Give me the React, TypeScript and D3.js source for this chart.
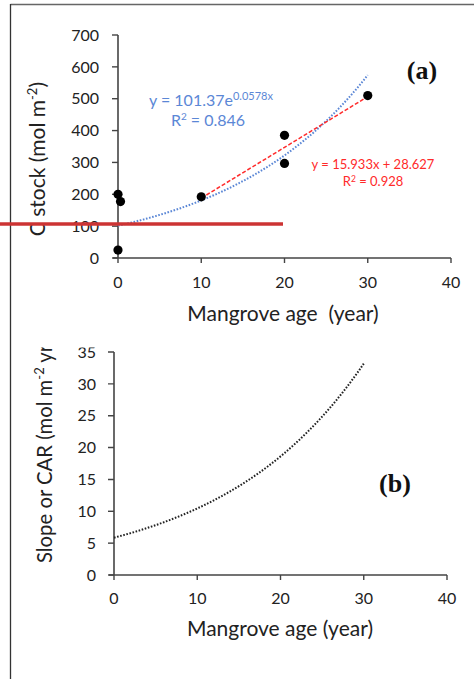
import React from "react";
import * as d3 from "d3";

// Panel (a) scatter data: mangrove age (year) vs C stock (mol m-2)
const ageYears = [0, 0, 0.3, 10, 20, 20, 30];
const cStock = [200, 25, 177, 192, 385, 297, 510];

// Fitted trendlines shown on the chart
const expFitA = 101.37; // y = 101.37 e^(0.0578x)
const expFitB = 0.0578;
const linSlope = 15.933; // y = 15.933x + 28.627
const linIntercept = 28.627;
const fitRange = [0, 30];
const linRange = [10, 30];

const xTicks = [0, 10, 20, 30, 40];
const yTicksA = [0, 100, 200, 300, 400, 500, 600, 700];
const yTicksB = [0, 5, 10, 15, 20, 25, 30, 35];

const FONT = "Lato, 'Open Sans', sans-serif";
const AXIS = "#444";
const TXT = "#222";

export default function App() {
  const xA = d3.scaleLinear().domain([0, 40]).range([118, 451]);
  const yA = d3.scaleLinear().domain([0, 700]).range([258, 35]);
  const xB = d3.scaleLinear().domain([0, 40]).range([114, 447]);
  const yB = d3.scaleLinear().domain([0, 35]).range([575, 352]);

  const samples = d3.range(fitRange[0], fitRange[1] + 0.001, 0.25);
  const expLine = d3
    .line<number>()
    .x((d) => xA(d))
    .y((d) => yA(expFitA * Math.exp(expFitB * d)));
  const linLine = d3
    .line<number>()
    .x((d) => xA(d))
    .y((d) => yA(linSlope * d + linIntercept));
  const rateLine = d3
    .line<number>()
    .x((d) => xB(d))
    .y((d) => yB(expFitA * expFitB * Math.exp(expFitB * d)));

  return (
    <svg
      width={474}
      height={679}
      style={{ position: "absolute", left: 0, top: 0, background: "#fff" }}
      fontFamily={FONT}
    >
      <defs>
        <clipPath id="clipB">
          <rect x={0} y={347.5} width={474} height={340} />
        </clipPath>
      </defs>
      <rect x={0} y={0} width={474} height={679} fill="#fff" />
      {/* outer frame */}
      <line x1={10.5} y1={4.5} x2={474} y2={4.5} stroke="#666" strokeWidth={1.5} />
      <line x1={10.5} y1={4} x2={10.5} y2={679} stroke="#333" strokeWidth={1.3} />

      {/* ===== Panel (a) ===== */}
      <g>
        <line x1={xA(0)} y1={yA(700)} x2={xA(0)} y2={yA(0)} stroke={AXIS} strokeWidth={1.6} />
        <line x1={xA(0) - 5} y1={yA(0)} x2={xA(40)} y2={yA(0)} stroke={AXIS} strokeWidth={1.6} />
        {yTicksA.map((t) => (
          <g key={"ya" + t}>
            <line x1={xA(0) - 6} x2={xA(0)} y1={yA(t)} y2={yA(t)} stroke={AXIS} strokeWidth={1.4} />
            <text x={99} y={yA(t)} dy="0.36em" textAnchor="end" fontSize={16} fill={TXT}>
              {t}
            </text>
          </g>
        ))}
        {xTicks.map((t) => (
          <g key={"xa" + t}>
            <line x1={xA(t)} x2={xA(t)} y1={yA(0)} y2={yA(0) + 5} stroke={AXIS} strokeWidth={1.4} />
            <text x={xA(t)} y={282} dy="0.36em" textAnchor="middle" fontSize={16} fill={TXT}>
              {t}
            </text>
          </g>
        ))}
        <text x={283} y={313} dy="0.36em" textAnchor="middle" fontSize={21} fill={TXT} style={{ whiteSpace: "pre" }}>
          {"Mangrove age  (year)"}
        </text>
        <text
          transform="translate(45,82) rotate(-90)"
          textAnchor="end"
          fontSize={21}
          fill={TXT}
        >
          C stock (mol m<tspan dy={-8} fontSize={13}>-2</tspan>
          <tspan dy={8}>)</tspan>
        </text>

        <path
          d={expLine(samples) || ""}
          fill="none"
          stroke="#5b87d6"
          strokeWidth={2}
          strokeDasharray="1.6 1.6"
        />
        <path
          d={linLine(linRange) || ""}
          fill="none"
          stroke="#ff2a2a"
          strokeWidth={1.5}
          strokeDasharray="4 2"
        />
        {ageYears.map((a, i) => (
          <circle key={"p" + i} cx={xA(a)} cy={yA(cStock[i])} r={4.6} fill="#000" />
        ))}

        <text x={149} y={100} dy="0.36em" fontSize={16} fill="#5b87d6">
          y = 101.37e<tspan dy={-6} fontSize={11}>0.0578x</tspan>
        </text>
        <text x={208} y={120} dy="0.36em" textAnchor="middle" fontSize={16} fill="#5b87d6">
          R<tspan dy={-6} fontSize={10}>2</tspan>
          <tspan dy={6}> = 0.846</tspan>
        </text>
        <text x={373} y={164} dy="0.36em" textAnchor="middle" fontSize={13} fill="#ff2a2a">
          y = 15.933x + 28.627
        </text>
        <text x={373} y={181} dy="0.36em" textAnchor="middle" fontSize={13} fill="#ff2a2a">
          R<tspan dy={-4} fontSize={8.5}>2</tspan>
          <tspan dy={4}> = 0.928</tspan>
        </text>
        <text x={422} y={70} dy="0.36em" textAnchor="middle" fontSize={26} fontWeight="bold" fontFamily="'Liberation Serif', 'DejaVu Serif', serif" fill="#111">
          (a)
        </text>
      </g>

      {/* red horizontal marker */}
      <line x1={0} y1={224} x2={283} y2={224} stroke="#cc3333" strokeWidth={3.5} />

      {/* ===== Panel (b) ===== */}
      <g clipPath="url(#clipB)">
        <line x1={xB(0)} y1={yB(35)} x2={xB(0)} y2={yB(0)} stroke={AXIS} strokeWidth={1.6} />
        <line x1={xB(0) - 5} y1={yB(0)} x2={xB(40)} y2={yB(0)} stroke={AXIS} strokeWidth={1.6} />
        {yTicksB.map((t) => (
          <g key={"yb" + t}>
            <line x1={xB(0) - 6} x2={xB(0)} y1={yB(t)} y2={yB(t)} stroke={AXIS} strokeWidth={1.4} />
            <text x={96} y={yB(t)} dy="0.36em" textAnchor="end" fontSize={16} fill={TXT}>
              {t}
            </text>
          </g>
        ))}
        {xTicks.map((t) => (
          <g key={"xb" + t}>
            <line x1={xB(t)} x2={xB(t)} y1={yB(0)} y2={yB(0) + 5} stroke={AXIS} strokeWidth={1.4} />
            <text x={xB(t)} y={598} dy="0.36em" textAnchor="middle" fontSize={16} fill={TXT}>
              {t}
            </text>
          </g>
        ))}
        <text x={280} y={628} dy="0.36em" textAnchor="middle" fontSize={21} fill={TXT}>
          Mangrove age (year)
        </text>
        <text transform="translate(52,563) rotate(-90)" textAnchor="start" fontSize={20.3} fill={TXT}>
          Slope or CAR (mol m<tspan dy={-8} fontSize={13}>-2</tspan>
          <tspan dy={8}> yr</tspan>
          <tspan dy={-8} fontSize={13}>-1</tspan>
          <tspan dy={8}>)</tspan>
        </text>
        <path
          d={rateLine(samples) || ""}
          fill="none"
          stroke="#222"
          strokeWidth={2}
          strokeDasharray="1.6 1.6"
        />
        <text x={395} y={483} dy="0.36em" textAnchor="middle" fontSize={26} fontWeight="bold" fontFamily="'Liberation Serif', 'DejaVu Serif', serif" fill="#111">
          (b)
        </text>
      </g>
    </svg>
  );
}
